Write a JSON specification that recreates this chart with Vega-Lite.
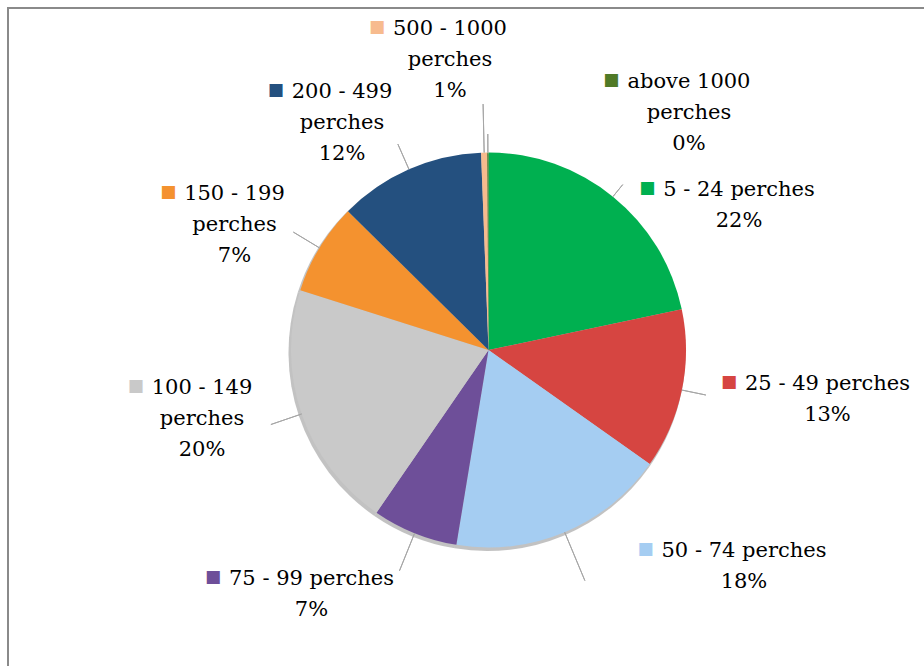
{
  "$schema": "https://vega.github.io/schema/vega-lite/v6.json",
  "autosize": "none",
  "padding": {"left": 8, "top": 8, "right": 0, "bottom": 0},
  "width": 961,
  "height": 684,
  "background": "white",
  "view": {"stroke": "#8a8a8a", "strokeWidth": 2},
  "config": {"view": {"stroke": "#8a8a8a", "strokeWidth": 2}},
  "data": {"values": [
    {"idx": 1, "cat": "5 - 24 perches", "value": 21.7, "lines": ["5 - 24 perches", "22%"]},
    {"idx": 2, "cat": "25 - 49 perches", "value": 13.1, "lines": ["25 - 49 perches", "13%"]},
    {"idx": 3, "cat": "50 - 74 perches", "value": 17.8, "lines": ["50 - 74 perches", "18%"]},
    {"idx": 4, "cat": "75 - 99 perches", "value": 7.0, "lines": ["75 - 99 perches", "7%"]},
    {"idx": 5, "cat": "100 - 149 perches", "value": 20.3, "lines": ["100 - 149", "perches", "20%"]},
    {"idx": 6, "cat": "150 - 199 perches", "value": 7.5, "lines": ["150 - 199", "perches", "7%"]},
    {"idx": 7, "cat": "200 - 499 perches", "value": 12.0, "lines": ["200 - 499", "perches", "12%"]},
    {"idx": 8, "cat": "500 - 1000 perches", "value": 0.5, "lines": ["500 - 1000", "perches", "1%"]},
    {"idx": 9, "cat": "above 1000 perches", "value": 0.1, "lines": ["above 1000", "perches", "0%"]}
  ]},
  "encoding": {
    "theta": {"field": "value", "type": "quantitative", "stack": true},
    "order": {"field": "idx", "type": "quantitative"},
    "detail": {"field": "cat", "type": "nominal"}
  },
  "layer": [
    {"mark": {"type": "arc", "outerRadius": 198.5, "xOffset": -1.5, "yOffset": 2.5, "color": "#9a9a9a", "opacity": 0.6}},
    {"mark": {"type": "arc", "outerRadius": 197.5},
     "encoding": {"color": {"field": "cat", "type": "nominal", "legend": null,
       "scale": {"domain": ["5 - 24 perches", "25 - 49 perches", "50 - 74 perches", "75 - 99 perches", "100 - 149 perches", "150 - 199 perches", "200 - 499 perches", "500 - 1000 perches", "above 1000 perches"],
                 "range": ["#00B050", "#D64541", "#A5CDF2", "#6E4F99", "#C9C9C9", "#F4922F", "#24507F", "#F7BB8E", "#507A27"]}}}},

    {"mark": {"type": "arc", "radius": 213, "radius2": 197.5, "padAngle": 1.2, "fillOpacity": 0, "stroke": "#a6a6a6", "strokeWidth": 1},
     "encoding": {"opacity": {"condition": {"test": "datum.idx === 1", "value": 1}, "value": 0}}},
    {"mark": {"type": "arc", "radius": 222, "radius2": 197.5, "padAngle": 1.2, "fillOpacity": 0, "stroke": "#a6a6a6", "strokeWidth": 1},
     "encoding": {"opacity": {"condition": {"test": "datum.idx === 2", "value": 1}, "value": 0}}},
    {"mark": {"type": "arc", "radius": 250, "radius2": 197.5, "padAngle": 1.2, "fillOpacity": 0, "stroke": "#a6a6a6", "strokeWidth": 1},
     "encoding": {"opacity": {"condition": {"test": "datum.idx === 3", "value": 1}, "value": 0}}},
    {"mark": {"type": "arc", "radius": 238, "radius2": 197.5, "padAngle": 1.2, "fillOpacity": 0, "stroke": "#a6a6a6", "strokeWidth": 1},
     "encoding": {"opacity": {"condition": {"test": "datum.idx === 4", "value": 1}, "value": 0}}},
    {"mark": {"type": "arc", "radius": 230, "radius2": 197.5, "padAngle": 1.2, "fillOpacity": 0, "stroke": "#a6a6a6", "strokeWidth": 1},
     "encoding": {"opacity": {"condition": {"test": "datum.idx === 5", "value": 1}, "value": 0}}},
    {"mark": {"type": "arc", "radius": 228, "radius2": 197.5, "padAngle": 1.2, "fillOpacity": 0, "stroke": "#a6a6a6", "strokeWidth": 1},
     "encoding": {"opacity": {"condition": {"test": "datum.idx === 6", "value": 1}, "value": 0}}},
    {"mark": {"type": "arc", "radius": 225, "radius2": 197.5, "padAngle": 1.2, "fillOpacity": 0, "stroke": "#a6a6a6", "strokeWidth": 1},
     "encoding": {"opacity": {"condition": {"test": "datum.idx === 7", "value": 1}, "value": 0}}},
    {"mark": {"type": "arc", "radius": 246, "radius2": 197.5, "padAngle": 1.2, "fillOpacity": 0, "stroke": "#a6a6a6", "strokeWidth": 1},
     "encoding": {"opacity": {"condition": {"test": "datum.idx === 8", "value": 1}, "value": 0}}},
    {"mark": {"type": "arc", "radius": 216, "radius2": 197.5, "padAngle": 1.2, "fillOpacity": 0, "stroke": "#a6a6a6", "strokeWidth": 1},
     "encoding": {"opacity": {"condition": {"test": "datum.idx === 9", "value": 1}, "value": 0}}},

    {"mark": {"type": "text", "radius": 304.7, "thetaOffset": 0.2834, "dy": 2.6, "align": "center", "baseline": "top", "font": "DejaVu Serif", "fontSize": 21, "lineHeight": 31, "color": "#000000"},
     "encoding": {"text": {"field": "lines", "type": "nominal"}, "opacity": {"condition": {"test": "datum.idx === 1", "value": 1}, "value": 0}}},
    {"mark": {"type": "text", "radius": 339.6, "thetaOffset": -0.1438, "dy": 2.6, "align": "center", "baseline": "top", "font": "DejaVu Serif", "fontSize": 21, "lineHeight": 31, "color": "#000000"},
     "encoding": {"text": {"field": "lines", "type": "nominal"}, "opacity": {"condition": {"test": "datum.idx === 2", "value": 1}, "value": 0}}},
    {"mark": {"type": "text", "radius": 316.9, "thetaOffset": -0.5419, "dy": 2.6, "align": "center", "baseline": "top", "font": "DejaVu Serif", "fontSize": 21, "lineHeight": 31, "color": "#000000"},
     "encoding": {"text": {"field": "lines", "type": "nominal"}, "opacity": {"condition": {"test": "datum.idx === 3", "value": 1}, "value": 0}}},
    {"mark": {"type": "text", "radius": 278.9, "thetaOffset": 0.3044, "dy": 2.6, "align": "center", "baseline": "top", "font": "DejaVu Serif", "fontSize": 21, "lineHeight": 31, "color": "#000000"},
     "encoding": {"text": {"field": "lines", "type": "nominal"}, "opacity": {"condition": {"test": "datum.idx === 4", "value": 1}, "value": 0}}},
    {"mark": {"type": "text", "radius": 287.5, "thetaOffset": 0.2445, "dy": 2.6, "align": "center", "baseline": "top", "font": "DejaVu Serif", "fontSize": 21, "lineHeight": 31, "color": "#000000"},
     "encoding": {"text": {"field": "lines", "type": "nominal"}, "opacity": {"condition": {"test": "datum.idx === 5", "value": 1}, "value": 0}}},
    {"mark": {"type": "text", "radius": 305.4, "thetaOffset": 0.0449, "dy": 2.6, "align": "center", "baseline": "top", "font": "DejaVu Serif", "fontSize": 21, "lineHeight": 31, "color": "#000000"},
     "encoding": {"text": {"field": "lines", "type": "nominal"}, "opacity": {"condition": {"test": "datum.idx === 6", "value": 1}, "value": 0}}},
    {"mark": {"type": "text", "radius": 308.5, "thetaOffset": -0.0801, "dy": 2.6, "align": "center", "baseline": "top", "font": "DejaVu Serif", "fontSize": 21, "lineHeight": 31, "color": "#000000"},
     "encoding": {"text": {"field": "lines", "type": "nominal"}, "opacity": {"condition": {"test": "datum.idx === 7", "value": 1}, "value": 0}}},
    {"mark": {"type": "text", "radius": 336.7, "thetaOffset": -0.0927, "dy": 2.6, "align": "center", "baseline": "top", "font": "DejaVu Serif", "fontSize": 21, "lineHeight": 31, "color": "#000000"},
     "encoding": {"text": {"field": "lines", "type": "nominal"}, "opacity": {"condition": {"test": "datum.idx === 8", "value": 1}, "value": 0}}},
    {"mark": {"type": "text", "radius": 345.6, "thetaOffset": 0.622, "dy": 2.6, "align": "center", "baseline": "top", "font": "DejaVu Serif", "fontSize": 21, "lineHeight": 31, "color": "#000000"},
     "encoding": {"text": {"field": "lines", "type": "nominal"}, "opacity": {"condition": {"test": "datum.idx === 9", "value": 1}, "value": 0}}},

    {"mark": {"type": "text", "text": "■", "radius": 304.7, "thetaOffset": 0.2834, "align": "center", "baseline": "middle", "dx": -91.8, "dy": 11.5, "font": "DejaVu Sans", "fontSize": 17},
     "encoding": {"color": {"field": "cat", "type": "nominal", "legend": null}, "opacity": {"condition": {"test": "datum.idx === 1", "value": 1}, "value": 0}}},
    {"mark": {"type": "text", "text": "■", "radius": 339.6, "thetaOffset": -0.1438, "align": "center", "baseline": "middle", "dx": -98.5, "dy": 11.5, "font": "DejaVu Sans", "fontSize": 17},
     "encoding": {"color": {"field": "cat", "type": "nominal", "legend": null}, "opacity": {"condition": {"test": "datum.idx === 2", "value": 1}, "value": 0}}},
    {"mark": {"type": "text", "text": "■", "radius": 316.9, "thetaOffset": -0.5419, "align": "center", "baseline": "middle", "dx": -98.5, "dy": 11.5, "font": "DejaVu Sans", "fontSize": 17},
     "encoding": {"color": {"field": "cat", "type": "nominal", "legend": null}, "opacity": {"condition": {"test": "datum.idx === 3", "value": 1}, "value": 0}}},
    {"mark": {"type": "text", "text": "■", "radius": 278.9, "thetaOffset": 0.3044, "align": "center", "baseline": "middle", "dx": -98.5, "dy": 11.5, "font": "DejaVu Sans", "fontSize": 17},
     "encoding": {"color": {"field": "cat", "type": "nominal", "legend": null}, "opacity": {"condition": {"test": "datum.idx === 4", "value": 1}, "value": 0}}},
    {"mark": {"type": "text", "text": "■", "radius": 287.5, "thetaOffset": 0.2445, "align": "center", "baseline": "middle", "dx": -66.3, "dy": 11.5, "font": "DejaVu Sans", "fontSize": 17},
     "encoding": {"color": {"field": "cat", "type": "nominal", "legend": null}, "opacity": {"condition": {"test": "datum.idx === 5", "value": 1}, "value": 0}}},
    {"mark": {"type": "text", "text": "■", "radius": 305.4, "thetaOffset": 0.0449, "align": "center", "baseline": "middle", "dx": -66.3, "dy": 11.5, "font": "DejaVu Sans", "fontSize": 17},
     "encoding": {"color": {"field": "cat", "type": "nominal", "legend": null}, "opacity": {"condition": {"test": "datum.idx === 6", "value": 1}, "value": 0}}},
    {"mark": {"type": "text", "text": "■", "radius": 308.5, "thetaOffset": -0.0801, "align": "center", "baseline": "middle", "dx": -66.3, "dy": 11.5, "font": "DejaVu Sans", "fontSize": 17},
     "encoding": {"color": {"field": "cat", "type": "nominal", "legend": null}, "opacity": {"condition": {"test": "datum.idx === 7", "value": 1}, "value": 0}}},
    {"mark": {"type": "text", "text": "■", "radius": 336.7, "thetaOffset": -0.0927, "align": "center", "baseline": "middle", "dx": -73, "dy": 11.5, "font": "DejaVu Sans", "fontSize": 17},
     "encoding": {"color": {"field": "cat", "type": "nominal", "legend": null}, "opacity": {"condition": {"test": "datum.idx === 8", "value": 1}, "value": 0}}},
    {"mark": {"type": "text", "text": "■", "radius": 345.6, "thetaOffset": 0.622, "align": "center", "baseline": "middle", "dx": -77.8, "dy": 11.5, "font": "DejaVu Sans", "fontSize": 17},
     "encoding": {"color": {"field": "cat", "type": "nominal", "legend": null}, "opacity": {"condition": {"test": "datum.idx === 9", "value": 1}, "value": 0}}}
  ]
}
